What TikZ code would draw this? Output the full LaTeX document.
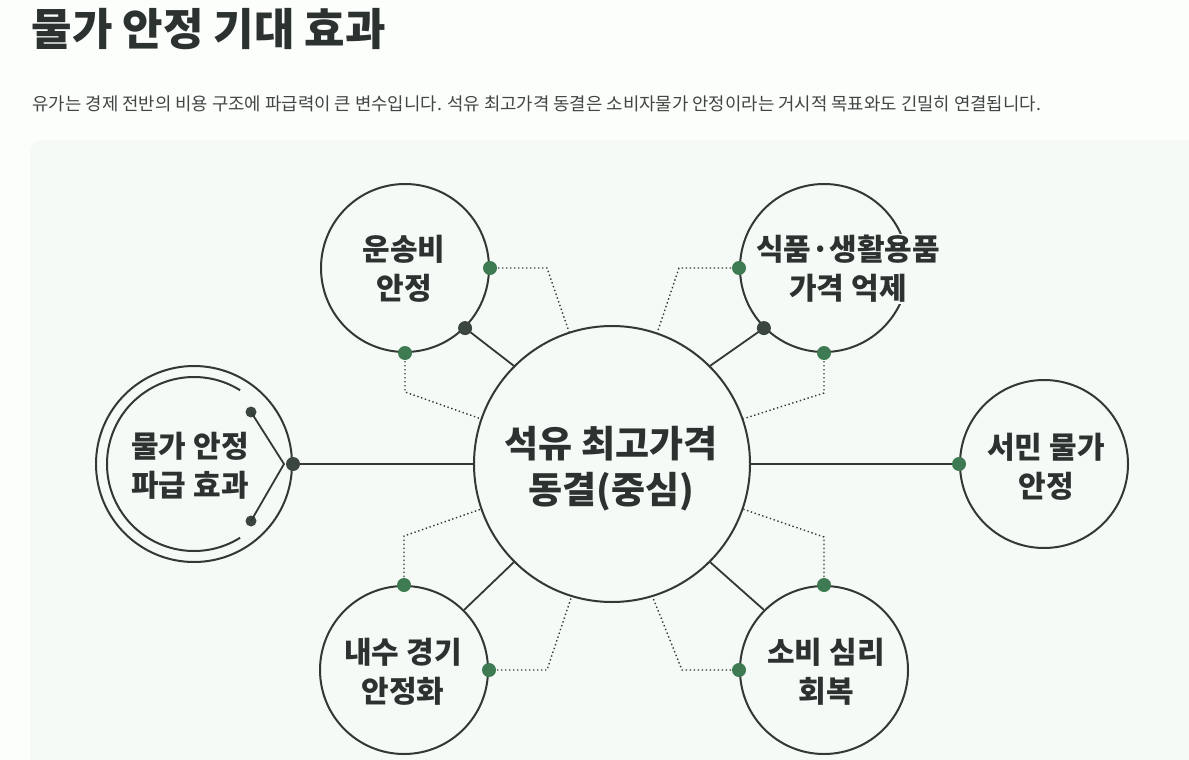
\documentclass[tikz,border=0pt]{standalone}
\usepackage{fontspec}
\setmainfont{Noto Sans CJK KR}
\usetikzlibrary{positioning,calc}

\definecolor{pagebg}{HTML}{FBFEFB}
\definecolor{panelbg}{HTML}{F5FAF6}
\definecolor{ink}{HTML}{2C322F}
\definecolor{linegray}{HTML}{333835}
\definecolor{dotgreen}{HTML}{3F7B52}
\definecolor{dotdark}{HTML}{3B4641}

\tikzset{
  bubble/.style={circle,draw=linegray,line width=2pt,fill=panelbg,inner sep=0pt,minimum size=#1},
  bubble/.default=168pt,
  bubbletext/.style={font=\bfseries\fontsize{30}{39}\selectfont,text=ink,align=center,fill=panelbg,inner sep=1pt},
  gdot/.style={circle,fill=dotgreen,inner sep=0pt,minimum size=14pt},
  kdot/.style={circle,fill=dotdark,inner sep=0pt,minimum size=#1},
  kdot/.default=14pt,
  link/.style={draw=linegray,line width=1.8pt},
  dotlink/.style={draw=linegray,line width=1.4pt,dash pattern=on 1.4pt off 2.6pt},
}

\begin{document}
\begin{tikzpicture}[x=1pt,y=-1pt]
\useasboundingbox (0,0) rectangle (1189,760);
\fill[pagebg] (0,0) rectangle (1189,760);
\fill[panelbg,rounded corners=12pt] (30,140) rectangle (1215,790);

% heading
\node[anchor=west,font=\bfseries\fontsize{44}{50}\selectfont,text=ink] (title) at (28,29) {물가 안정 기대 효과};
\node[anchor=west,font=\fontsize{17.8}{22}\selectfont,text=ink!90] (lead) at (29,104) {유가는 경제 전반의 비용 구조에 파급력이 큰 변수입니다. 석유 최고가격 동결은 소비자물가 안정이라는 거시적 목표와도 긴밀히 연결됩니다.};

% circles
\node[bubble=276pt] (hub) at (612,464) {};
\foreach \n/\x/\y in {trans/405/268, goods/824/268, dom/404/670, mood/824/670, house/1044/464}
  \node[bubble] (\n) at (\x,\y) {};
\node[bubble=196pt] (ripple) at (194,464) {};
\draw[linegray,line width=2pt] ($(ripple.center)+(58:87)$) arc[start angle=58,end angle=302,radius=87];

% labels
\node[bubbletext,font=\bfseries\fontsize{37}{46}\selectfont] (hubtext) at (611,469) {석유 최고가격\\동결(중심)};
\node[bubbletext] (transtext) at (404,269) {운송비\\안정};
\node[bubbletext] (goodstext) at (848,269) {식품·생활용품\\가격 억제};
\node[bubbletext] (domtext) at (403,672) {내수 경기\\안정화};
\node[bubbletext] (moodtext) at (826,672) {소비 심리\\회복};
\node[bubbletext] (housetext) at (1046,467) {서민 물가\\안정};
\node[bubbletext] (rippletext) at (190,466) {물가 안정\\파급 효과};

% solid links
\draw[link] (hub.180) -- (ripple.0);
\draw[link] (hub.0) -- (house.180);
\draw[link] (hub.135) -- (trans.-45);
\draw[link] (hub.45) -- (goods.-135);
\draw[link] (hub.-135) -- (dom.45);
\draw[link] (hub.-45) -- (mood.135);

% dotted links
\draw[dotlink] (trans.0) -- (547,268) -- (hub.108);
\draw[dotlink] (trans.-90) -- (405,392) -- (hub.161);
\draw[dotlink] (goods.180) -- (679,268) -- (hub.71);
\draw[dotlink] (goods.-90) -- (824,393) -- (hub.19);
\draw[dotlink] (dom.90) -- (404,536) -- (hub.199);
\draw[dotlink] (dom.0) -- (547,670) -- (hub.-107);
\draw[dotlink] (mood.90) -- (824,537) -- (hub.-19);
\draw[dotlink] (mood.180) -- (682,670) -- (hub.-73);

% ripple fork
\coordinate (tip) at (284,464);
\node[kdot=11pt] (rtop) at (251,412) {};
\node[kdot=11pt] (rbot) at (251,521) {};
\draw[link] (rtop.center) -- (tip) -- (rbot.center);
\node[kdot] (rmid) at (ripple.0) {};

% dots
\foreach \n/\a in {trans/0, trans/-90, goods/180, goods/-90, dom/90, dom/0, mood/90, mood/180, house/180}
  \node[gdot] (\n-\a) at (\n.\a) {};
\foreach \n/\a in {trans/-45, goods/-135}
  \node[kdot] (\n-\a) at (\n.\a) {};
\end{tikzpicture}
\end{document}
